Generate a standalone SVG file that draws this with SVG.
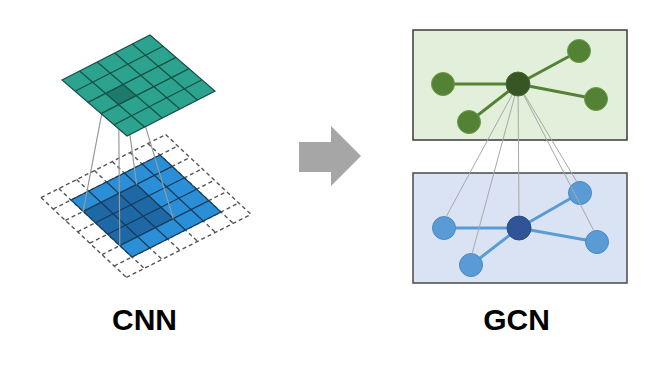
<svg xmlns="http://www.w3.org/2000/svg" width="645" height="372" viewBox="0 0 645 372">
<style>
.dash{fill:none;stroke:#555;stroke-width:1.4;stroke-dasharray:4 3}
.bgrid{fill:none;stroke:#163a5c;stroke-width:1.2}
.tgrid{fill:none;stroke:#164f45;stroke-width:1.2}
.proj{fill:none;stroke:#9a9a9a;stroke-width:1.2}
.gl{fill:none;stroke:#a8a8a8;stroke-width:1}
.ge{stroke:#548235;stroke-width:3;fill:none}
.be{stroke:#5b9bd5;stroke-width:3;fill:none}
.gn{fill:#548235;stroke:#6a9a4a;stroke-width:1}
.bn{fill:#5b9bd5;stroke:#4a8ac4;stroke-width:1}
.lbl{font-family:"Liberation Sans",Arial,sans-serif;font-weight:bold;font-size:30px;fill:#000;text-anchor:middle}
</style>
<rect width="645" height="372" fill="#fff"/>
<g id="cnn">
  <g id="padding">
    <path class="dash" d="M41,197.6L126.4,277.4M58.8,188.6L144.2,268.4M76.6,179.6L162,259.4M94.4,170.6L179.8,250.4M112.2,161.6L197.6,241.4M130,152.6L215.4,232.4M147.8,143.6L233.2,223.4M165.6,134.6L251,214.4M41,197.6L165.6,134.6M53.2,209L177.8,146M65.4,220.4L190,157.4M77.6,231.8L202.2,168.8M89.8,243.2L214.4,180.2M102,254.6L226.6,191.6M114.2,266L238.8,203M126.4,277.4L251,214.4"/>
  </g>
  <g id="input-grid">
    <polygon points="71,200 160,155 221,212 132,257" fill="#2a8fd6"/>
    <polygon points="83.2,211.4 136.6,184.4 173.2,218.6 119.8,245.6" fill="#1f68a6"/>
    <polygon class="bgrid" points="71,200 160,155 221,212 132,257"/>
    <path class="bgrid" d="M88.8,191L149.8,248M106.6,182L167.6,239M124.4,173L185.4,230M142.2,164L203.2,221M83.2,211.4L172.2,166.4M95.4,222.8L184.4,177.8M107.6,234.2L196.6,189.2M119.8,245.6L208.8,200.6"/>
  </g>
  <g id="projection">
    <path class="proj" d="M105.6,93.4L83.2,211.4M118.6,104.6L119.8,245.6M123.2,84.4L136.6,184.4M136.2,95.6L173.2,218.6"/>
  </g>
  <g id="output-grid">
    <polygon points="62,80 150,35 215,91 127,136" fill="#2ca38e"/>
    <polygon points="105.6,93.4 123.2,84.4 136.2,95.6 118.6,104.6" fill="#1e7a6a"/>
    <polygon class="tgrid" points="62,80 150,35 215,91 127,136"/>
    <path class="tgrid" d="M79.6,71L144.6,127M97.2,62L162.2,118M114.8,53L179.8,109M132.4,44L197.4,100M75,91.2L163,46.2M88,102.4L176,57.4M101,113.6L189,68.6M114,124.8L202,79.8"/>
  </g>
</g>
<g id="arrow">
  <polygon points="299,142 331,142 331,126 361,156 331,186 331,172 299,172" fill="#a6a6a6"/>
</g>
<g id="gcn">
  <g id="layer1-box"><rect x="413" y="30" width="214" height="110" fill="#e2efda" stroke="#3a3a3a" stroke-width="1.5"/></g>
  <g id="layer2-box"><rect x="413" y="173" width="214" height="110" fill="#dae3f3" stroke="#4a4a4a" stroke-width="1.5"/></g>
  <g id="layer2-edges">
    <path class="be" d="M444,228L519,228M471,265L519,228M519,228L580,193M519,228L597,242"/>
  </g>
  <g id="b-left"><circle class="bn" cx="444" cy="228" r="11.5"/></g>
  <g id="b-bottom"><circle class="bn" cx="471" cy="265" r="11.5"/></g>
  <g id="b-center"><circle cx="519" cy="228" r="12" fill="#2f5597" stroke="#284a85" stroke-width="1"/></g>
  <g id="b-topright"><circle class="bn" cx="580" cy="193" r="11.5"/></g>
  <g id="b-right"><circle class="bn" cx="597" cy="242" r="11.5"/></g>
  <g id="connectors">
    <path class="gl" d="M518,84L446,217M518,84L472,254M518,84L519,216M518,84L577,182M518,84L594,231"/>
  </g>
  <g id="layer1-edges">
    <path class="ge" d="M443,84L518,84M469,122L518,84M518,84L579,51M518,84L596,99"/>
  </g>
  <g id="g-left"><circle class="gn" cx="443" cy="84" r="11.5"/></g>
  <g id="g-bottom"><circle class="gn" cx="469" cy="122" r="11.5"/></g>
  <g id="g-topright"><circle class="gn" cx="579" cy="51" r="11.5"/></g>
  <g id="g-right"><circle class="gn" cx="596" cy="99" r="11.5"/></g>
  <g id="g-center"><circle cx="518" cy="84" r="12" fill="#375623" stroke="#4a6a35" stroke-width="1"/></g>
</g>
<text class="lbl" x="144.5" y="330">CNN</text>
<text class="lbl" x="516.5" y="330">GCN</text>
</svg>
